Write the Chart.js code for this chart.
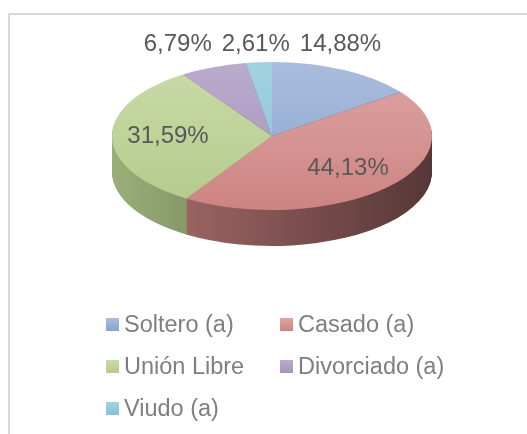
<!DOCTYPE html>
<html>
<head>
<meta charset="utf-8">
<script src="https://cdn.jsdelivr.net/npm/chart.js@4.4.0/dist/chart.umd.min.js"></script>
<style>
body { margin: 0; background: #fff; }
#wrap { position: relative; width: 527px; height: 434px; overflow: hidden; }
#frame { position: absolute; left: 8px; top: 13px; width: 600px; height: 500px; border: 2px solid #D9D9D9; box-sizing: border-box; }
#chart { position: absolute; left: 0; top: 0; }
#legend { position: absolute; left: 106px; top: 311px; display: grid; grid-template-columns: 174px auto; grid-auto-rows: 42px;
  font-family: "Liberation Sans", Arial, sans-serif; font-size: 23.5px; color: #7F7F7F; }
.item { display: flex; align-items: center; height: 27px; white-space: nowrap; }
.box { width: 13px; height: 13px; margin-right: 5px; flex: none; }
</style>
</head>
<body>
<div id="wrap">
  <div id="frame"></div>
  <canvas id="chart" width="527" height="434"></canvas>
  <div id="legend"></div>
</div>
<script>
// Estado civil
const labels = ['Soltero (a)', 'Casado (a)', 'Unión Libre', 'Divorciado (a)', 'Viudo (a)'];
const percents = [14.88, 44.13, 31.59, 6.79, 2.61];

const lightColors = ['#A9BCDC', '#DCA5A4', '#C9DAA8', '#BAABCD', '#A2D3E1'];
const darkColors = ['#8AA4D1', '#CD8482', '#B4CB8B', '#A692BD', '#85C2D5'];

// fake 3d look
const PIE_CY = 136;
const TILT = 74 / 160;
const DEPTH = 36;

function shade(hex, f) {
    const n = parseInt(hex.slice(1), 16);
    const r = Math.round(((n >> 16) & 255) * f);
    const g = Math.round(((n >> 8) & 255) * f);
    const b = Math.round((n & 255) * f);
    return `rgb(${r},${g},${b})`;
}

function squash(ctx, cx, cy) {
    ctx.translate(cx, PIE_CY);
    ctx.scale(1, TILT);
    ctx.translate(-cx, -cy);
}

const pie3d = {
    id: 'pie3d',
    beforeDatasetsDraw(chart) {
        const ctx = chart.ctx;
        const arcs = chart.getDatasetMeta(0).data;
        const cx = arcs[0].x, cy = arcs[0].y, r = arcs[0].outerRadius;

        const sides = arcs.map((arc, i) => {
            const g = ctx.createLinearGradient(cx - r, 0, cx + r, 0);
            g.addColorStop(0, shade(darkColors[i], 0.86));
            g.addColorStop(0.3, shade(darkColors[i], 0.72));
            g.addColorStop(1, shade(darkColors[i], 0.42));
            const el = Object.create(arc);
            el.options = Object.assign({}, arc.options, { backgroundColor: g, borderWidth: 0 });
            return el;
        });

        // side walls: stack the slices downwards
        for (let d = DEPTH; d >= 1; d--) {
            ctx.save();
            ctx.translate(0, d);
            squash(ctx, cx, cy);
            sides.forEach(el => el.draw(ctx));
            ctx.restore();
        }

        ctx.save();
        squash(ctx, cx, cy);
    },
    afterDatasetsDraw(chart) {
        const ctx = chart.ctx;
        ctx.restore();

        const arcs = chart.getDatasetMeta(0).data;
        const cx = arcs[0].x, r = arcs[0].outerRadius;

        ctx.save();
        ctx.font = '24px "Liberation Sans", Arial, sans-serif';
        ctx.fillStyle = '#595959';
        ctx.textAlign = 'center';
        ctx.textBaseline = 'middle';

        const outside = [];
        arcs.forEach((arc, i) => {
            const mid = (arc.startAngle + arc.endAngle) / 2;
            const text = percents[i].toFixed(2).replace('.', ',') + '%';
            const w = ctx.measureText(text).width;
            if (percents[i] < 20) {
                outside.push({ text, w, x: cx + r * 0.95 * Math.cos(mid) });
            } else {
                ctx.fillText(text, cx + r * 0.65 * Math.cos(mid), PIE_CY + r * TILT * 0.65 * Math.sin(mid));
            }
        });

        // small slices go above the pie, pushed apart
        outside.sort((a, b) => b.x - a.x);
        for (let j = 1; j < outside.length; j++) {
            const prev = outside[j - 1], cur = outside[j];
            const maxX = prev.x - prev.w / 2 - 10 - cur.w / 2;
            if (cur.x > maxX) cur.x = maxX;
        }
        outside.forEach(o => ctx.fillText(o.text, o.x, PIE_CY - r * TILT - 18));
        ctx.restore();
    }
};

new Chart(document.getElementById('chart'), {
    type: 'pie',
    data: {
        labels: labels,
        datasets: [{
            data: percents,
            borderWidth: 0,
            backgroundColor(c) {
                const area = c.chart.chartArea;
                if (!area) return darkColors[c.dataIndex];
                const g = c.chart.ctx.createLinearGradient(0, area.top, 0, area.bottom);
                g.addColorStop(0, lightColors[c.dataIndex]);
                g.addColorStop(1, darkColors[c.dataIndex]);
                return g;
            }
        }]
    },
    options: {
        responsive: false,
        animation: false,
        layout: { padding: { left: 112, right: 95, top: 0, bottom: 114 } },
        plugins: {
            legend: { display: false },
            tooltip: { enabled: false }
        }
    },
    plugins: [pie3d]
});

// legend
const legendEl = document.getElementById('legend');
labels.forEach((label, i) => {
    const item = document.createElement('div');
    item.className = 'item';
    const box = document.createElement('span');
    box.className = 'box';
    box.style.background = `linear-gradient(${lightColors[i]}, ${darkColors[i]})`;
    const txt = document.createElement('span');
    txt.textContent = label;
    item.appendChild(box);
    item.appendChild(txt);
    legendEl.appendChild(item);
});
</script>
</body>
</html>
